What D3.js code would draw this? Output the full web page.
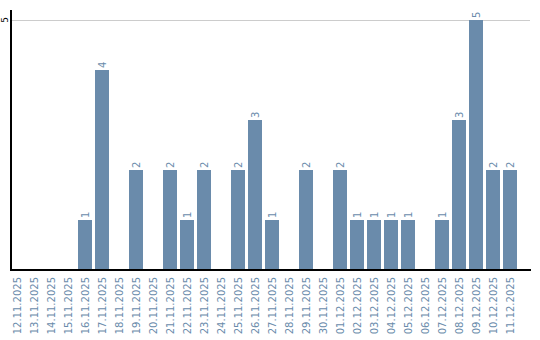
<!DOCTYPE html>
<html>
<head>
<meta charset="utf-8">
<script src="https://cdn.jsdelivr.net/npm/d3@7"></script>
<style>
  body { margin: 0; background: #fff; }
  text { font-family: "DejaVu Sans", sans-serif; }
</style>
</head>
<body>
<div id="chart"></div>
<script>
// データ---------------------------------------------------------------
const dates = [
  '12.11.2025', '13.11.2025', '14.11.2025', '15.11.2025', '16.11.2025',
  '17.11.2025', '18.11.2025', '19.11.2025', '20.11.2025', '21.11.2025',
  '22.11.2025', '23.11.2025', '24.11.2025', '25.11.2025', '26.11.2025',
  '27.11.2025', '28.11.2025', '29.11.2025', '30.11.2025', '01.12.2025',
  '02.12.2025', '03.12.2025', '04.12.2025', '05.12.2025', '06.12.2025',
  '07.12.2025', '08.12.2025', '09.12.2025', '10.12.2025', '11.12.2025'
];
const counts = [0, 0, 0, 0, 1, 4, 0, 2, 0, 2, 1, 2, 0, 2, 3, 1, 0, 2, 0, 2, 1, 1, 1, 1, 0, 1, 3, 5, 2, 2];
const yTicks = [5];

const width = 540, height = 340;
const barColor = '#6a8bab';
const textColor = '#6a8bab';

const svg = d3.select('#chart').append('svg')
  .attr('width', width)
  .attr('height', height);

// スケール-------------------------------------------------------------
const x = d3.scaleBand()
  .domain(dates)
  .range([10, 517])
  .paddingInner(3 / 17)
  .paddingOuter(0);
const y = d3.scaleLinear()
  .domain([0, 5])
  .range([270, 20]);

// グリッド線-----------------------------------------------------------
svg.append('g')
  .selectAll('line')
  .data(yTicks)
  .enter()
  .append('line')
  .attr('x1', 11)
  .attr('x2', 530)
  .attr('y1', d => y(d))
  .attr('y2', d => y(d))
  .attr('stroke', '#cccccc')
  .attr('stroke-width', 1)
  .attr('shape-rendering', 'crispEdges');

// 棒--------------------------------------------------------------------
svg.append('g')
  .selectAll('rect')
  .data(counts)
  .enter()
  .append('rect')
  .attr('x', (d, i) => x(dates[i]))
  .attr('y', d => y(d))
  .attr('width', x.bandwidth())
  .attr('height', d => y(0) - y(d))
  .attr('fill', barColor)
  .attr('shape-rendering', 'crispEdges');

// 値ラベル---------------------------------------------------------------
svg.append('g')
  .selectAll('text')
  .data(counts.map((v, i) => ({ v, d: dates[i] })).filter(o => o.v > 0))
  .enter()
  .append('text')
  .attr('transform', o => 'translate(' + (x(o.d) + x.bandwidth() / 2 + 3.5) + ',' + (y(o.v) - 2) + ') rotate(-90)')
  .attr('text-anchor', 'start')
  .attr('font-size', '10px')
  .attr('fill', textColor)
  .text(o => o.v);

// 横軸-------------------------------------------------------------------
const gX = svg.append('g')
  .attr('transform', 'translate(0,270)')
  .call(d3.axisBottom(x).tickSize(0).tickPadding(0));
gX.select('.domain').remove();
gX.selectAll('text')
  .attr('transform', 'translate(3.5,7) rotate(-90)')
  .attr('y', 0)
  .attr('dy', 0)
  .attr('text-anchor', 'end')
  .attr('font-size', '10px')
  .attr('font-family', '"DejaVu Sans", sans-serif')
  .attr('fill', textColor);
svg.append('line')
  .attr('x1', 10).attr('x2', 531)
  .attr('y1', 270).attr('y2', 270)
  .attr('stroke', '#000')
  .attr('stroke-width', 2);

// 縦軸-------------------------------------------------------------------
svg.append('line')
  .attr('x1', 11).attr('x2', 11)
  .attr('y1', 10).attr('y2', 271)
  .attr('stroke', '#000')
  .attr('stroke-width', 2);
svg.append('g')
  .selectAll('text')
  .data(yTicks)
  .enter()
  .append('text')
  .attr('transform', d => 'translate(8,' + y(d) + ') rotate(-90)')
  .attr('text-anchor', 'middle')
  .attr('font-size', '9px')
  .attr('fill', '#000')
  .text(d => d);
</script>
</body>
</html>
